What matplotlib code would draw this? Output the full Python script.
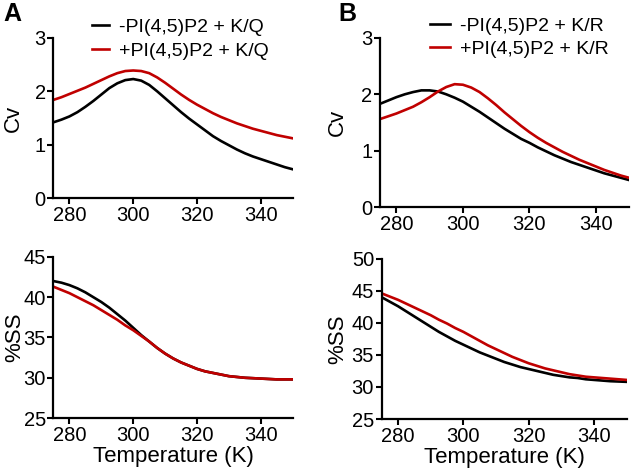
import matplotlib
matplotlib.use('Agg')
import matplotlib.pyplot as plt

plt.rcParams['font.family'] = ['Liberation Sans', 'DejaVu Sans']

temp = [275, 277.5, 280, 282.5, 285, 287.5, 290, 292.5, 295, 297.5, 300, 302.5, 305, 307.5, 310, 312.5,
        315, 317.5, 320, 322.5, 325, 327.5, 330, 332.5, 335, 337.5, 340, 342.5, 345, 347.5, 350]

# panel A, K/Q
cv_kq_minus = [1.42, 1.47, 1.53, 1.61, 1.71, 1.82, 1.94, 2.06, 2.15, 2.21, 2.23, 2.20, 2.12, 2.00, 1.87, 1.74,
               1.61, 1.49, 1.38, 1.27, 1.16, 1.07, 0.99, 0.91, 0.84, 0.78, 0.73, 0.68, 0.63, 0.58, 0.54]
cv_kq_plus = [1.84, 1.89, 1.95, 2.01, 2.07, 2.14, 2.21, 2.28, 2.34, 2.38, 2.39, 2.38, 2.34, 2.26, 2.16, 2.05,
              1.94, 1.84, 1.75, 1.67, 1.59, 1.52, 1.46, 1.40, 1.35, 1.30, 1.26, 1.22, 1.18, 1.15, 1.12]
ss_kq_minus = [42.0, 41.8, 41.5, 41.1, 40.6, 40.0, 39.4, 38.7, 37.9, 37.1, 36.2, 35.3, 34.5, 33.7, 33.0, 32.4,
               31.9, 31.5, 31.1, 30.8, 30.6, 30.4, 30.2, 30.1, 30.0, 29.95, 29.9, 29.85, 29.8, 29.8, 29.8]
ss_kq_plus = [41.3, 40.9, 40.5, 40.0, 39.5, 39.0, 38.4, 37.8, 37.2, 36.5, 35.9, 35.2, 34.5, 33.7, 33.0, 32.4,
              31.9, 31.5, 31.1, 30.8, 30.6, 30.4, 30.2, 30.1, 30.0, 29.95, 29.9, 29.85, 29.8, 29.8, 29.8]

# panel B, K/R
cv_kr_minus = [1.83, 1.89, 1.95, 2.00, 2.04, 2.07, 2.07, 2.05, 2.00, 1.94, 1.87, 1.78, 1.69, 1.59, 1.49, 1.39,
               1.30, 1.21, 1.14, 1.06, 0.99, 0.92, 0.86, 0.80, 0.75, 0.70, 0.65, 0.60, 0.56, 0.52, 0.48]
cv_kr_plus = [1.56, 1.61, 1.66, 1.72, 1.78, 1.86, 1.95, 2.05, 2.13, 2.18, 2.17, 2.12, 2.04, 1.93, 1.81, 1.68,
              1.56, 1.44, 1.33, 1.23, 1.14, 1.06, 0.98, 0.91, 0.84, 0.78, 0.72, 0.66, 0.61, 0.56, 0.52]
ss_kr_minus = [44.0, 43.3, 42.6, 41.8, 41.0, 40.2, 39.4, 38.6, 37.9, 37.2, 36.6, 36.0, 35.4, 34.9, 34.4, 33.9,
               33.5, 33.1, 32.8, 32.5, 32.2, 31.9, 31.7, 31.5, 31.4, 31.2, 31.1, 31.0, 30.9, 30.85, 30.8]
ss_kr_plus = [44.6, 44.1, 43.6, 43.0, 42.4, 41.8, 41.2, 40.5, 39.9, 39.2, 38.6, 37.9, 37.2, 36.5, 35.9, 35.3,
              34.7, 34.2, 33.7, 33.3, 32.9, 32.6, 32.3, 32.0, 31.8, 31.6, 31.5, 31.4, 31.3, 31.2, 31.1]

black = '#000000'
red = '#c00000'

fig = plt.figure(figsize=(6.33, 4.74), dpi=100)
ax_a1 = fig.add_axes([0.0845, 0.582, 0.378, 0.338])
ax_a2 = fig.add_axes([0.0845, 0.118, 0.378, 0.340])
ax_b1 = fig.add_axes([0.600, 0.563, 0.394, 0.357])
ax_b2 = fig.add_axes([0.603, 0.116, 0.387, 0.338])


def style(ax):
    for s in ['top', 'right']:
        ax.spines[s].set_visible(False)
    for s in ['left', 'bottom']:
        ax.spines[s].set_linewidth(1.6)
    ax.tick_params(direction='out', length=4, width=1.5, labelsize=14.5, pad=1.5)
    ax.set_xlim(275, 350)
    ax.set_xticks([280, 300, 320, 340])


ax_a1.plot(temp, cv_kq_minus, color=black, lw=1.9, label='-PI(4,5)P2 + K/Q')
ax_a1.plot(temp, cv_kq_plus, color=red, lw=1.9, label='+PI(4,5)P2 + K/Q')
ax_a1.set_ylim(0, 3)
ax_a1.set_yticks([0, 1, 2, 3])
ax_a1.set_ylabel('Cv', fontsize=16)
ax_a1.yaxis.set_label_coords(-0.125, 0.5)

ax_a2.plot(temp, ss_kq_minus, color=black, lw=1.9)
ax_a2.plot(temp, ss_kq_plus, color=red, lw=1.9)
ax_a2.set_ylim(25, 45)
ax_a2.set_yticks([25, 30, 35, 40, 45])
ax_a2.set_ylabel('%SS', fontsize=16)
ax_a2.yaxis.set_label_coords(-0.12, 0.5)
ax_a2.set_xlabel('Temperature (K)', fontsize=16, labelpad=1)

ax_b1.plot(temp, cv_kr_minus, color=black, lw=1.9, label='-PI(4,5)P2 + K/R')
ax_b1.plot(temp, cv_kr_plus, color=red, lw=1.9, label='+PI(4,5)P2 + K/R')
ax_b1.set_ylim(0, 3)
ax_b1.set_yticks([0, 1, 2, 3])
ax_b1.set_ylabel('Cv', fontsize=16)
ax_b1.yaxis.set_label_coords(-0.13, 0.5)

ax_b2.plot(temp, ss_kr_minus, color=black, lw=1.9)
ax_b2.plot(temp, ss_kr_plus, color=red, lw=1.9)
ax_b2.set_ylim(25, 50)
ax_b2.set_yticks([25, 30, 35, 40, 45, 50])
ax_b2.set_ylabel('%SS', fontsize=16)
ax_b2.yaxis.set_label_coords(-0.135, 0.5)
ax_b2.set_xlabel('Temperature (K)', fontsize=16, labelpad=1)

for ax in [ax_a1, ax_a2, ax_b1, ax_b2]:
    style(ax)

ax_a1.legend(loc='upper left', bbox_to_anchor=(0.13, 1.17), frameon=False, fontsize=14,
             handlelength=0.85, handletextpad=0.5, labelspacing=0.3, borderaxespad=0)
ax_b1.legend(loc='upper left', bbox_to_anchor=(0.17, 1.17), frameon=False, fontsize=14,
             handlelength=1.05, handletextpad=0.5, labelspacing=0.3, borderaxespad=0)

fig.text(0.005, 0.995, 'A', fontsize=18, fontweight='bold', va='top', ha='left')
fig.text(0.535, 0.995, 'B', fontsize=18, fontweight='bold', va='top', ha='left')

fig.savefig('out.png', dpi=100)
